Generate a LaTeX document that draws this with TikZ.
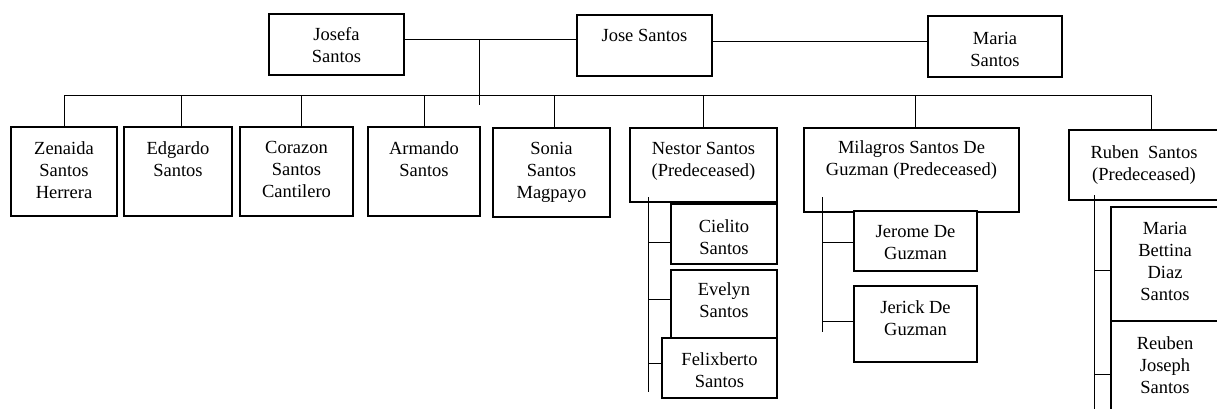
\documentclass[tikz,border=0pt]{standalone}
\usepackage{fontspec}
\setmainfont{Liberation Serif}
\usetikzlibrary{calc}
\tikzset{
  famrect/.style={draw, rectangle, line width=1.1pt, fill=white, inner sep=0pt},
  famtext/.style={anchor=north, align=center, inner sep=0pt, font=\fontsize{18.5}{22}\selectfont},
  conn/.style={line width=1pt}
}
% name, x1, y1, x2, y2, text, text offset
\newcommand\famnode[7]{%
  \node[famrect, minimum width={(#4-#2)*1pt}, minimum height={(#5-#3)*1pt}] (#1) at ({(#2+#4)/2},{(#3+#5)/2}) {};
  \node[famtext] (#1t) at ([yshift=-#7pt]#1.north) {#6};
}
\begin{document}
\begin{tikzpicture}[x=1pt,y=-1pt]
\useasboundingbox (0,0) rectangle (1217,408);
\clip (0,0) rectangle (1217,408);

% parents
\famnode{josefa}{269}{14}{404}{75}{Josefa\\Santos}{14}
\famnode{jose}{577}{15}{712}{76}{Jose Santos}{15}
\famnode{maria}{928}{16}{1062}{77}{Maria\\Santos}{17}

% children
\famnode{zen}{11}{127}{117}{216}{Zenaida\\Santos\\Herrera}{15}
\famnode{edg}{124}{127}{232}{216}{Edgardo\\Santos}{15}
\famnode{cor}{240}{127}{353}{216}{Corazon\\Santos\\Cantilero}{15}
\famnode{arm}{368}{127}{480}{216}{Armando\\Santos}{15}
\famnode{son}{493}{128}{610}{217}{Sonia\\Santos\\Magpayo}{15}
\famnode{nes}{630}{128}{777}{202}{Nestor Santos\\(Predeceased)}{15}
\famnode{mil}{804}{128}{1019}{212}{Milagros Santos De\\Guzman (Predeceased)}{13}
\famnode{rub}{1069}{130}{1219}{200}{Ruben~~Santos\\(Predeceased)}{16}

% grandchildren
\famnode{cie}{671}{204}{777}{264}{Cielito\\Santos}{16}
\famnode{eve}{671}{270}{777}{338}{Evelyn\\Santos}{13}
\famnode{fel}{662}{338}{777}{398}{Felixberto\\Santos}{15}
\famnode{jer}{854}{211}{977}{271}{Jerome De\\Guzman}{15}
\famnode{jek}{854}{286}{977}{362}{Jerick De\\Guzman}{15}
\famnode{mbd}{1111}{207}{1219}{321}{Maria\\Bettina\\Diaz\\Santos}{16}
\famnode{reu}{1111}{321}{1219}{425}{Reuben\\Joseph\\Santos}{16}

% parent connectors
\coordinate (jj) at ($(josefa.east)+(0,-5.5)$);
\draw[conn] (jj) -- (jj -| jose.west);
\coordinate (jm) at ($(jose.east)+(0,-4.5)$);
\draw[conn] (jm) -- (jm -| maria.west);
\coordinate (ptop) at (479,39);
\coordinate (pbot) at (479,105);
\draw[conn] (ptop) -- (pbot);

% bus
\coordinate (busL) at (64,95);
\coordinate (busR) at (1151,95);
\draw[conn] (busL) -- (busR);

% drops
\draw[conn] (zen.north) -- (zen.north |- busL);
\draw[conn] ($(edg.north)+(3,0)$) coordinate (d2) -- (d2 |- busL);
\draw[conn] ($(cor.north)+(4.5,0)$) coordinate (d3) -- (d3 |- busL);
\draw[conn] (arm.north) -- (arm.north |- busL);
\draw[conn] ($(son.north)+(2.5,0)$) coordinate (d5) -- (d5 |- busL);
\draw[conn] ($(nes.north)+(-0.5,0)$) coordinate (d6) -- (d6 |- busL);
\draw[conn] ($(mil.north)+(3.5,0)$) coordinate (d7) -- (d7 |- busL);
\draw[conn] ($(rub.north)+(7,0)$) coordinate (d8) -- (d8 |- busL);

% Nestor's children
\coordinate (nv1) at (648,197);
\coordinate (nv2) at (648,392);
\draw[conn] (nv1) -- (nv2);
\draw[conn] ($(cie.west)+(0,8)$) coordinate (c1) -- (c1 -| nv1);
\draw[conn] ($(eve.west)+(0,-5)$) coordinate (c2) -- (c2 -| nv1);
\draw[conn] ($(fel.west)+(0,-5)$) coordinate (c3) -- (c3 -| nv1);

% Milagros' children
\coordinate (mv1) at (822,197);
\coordinate (mv2) at (822,332);
\draw[conn] (mv1) -- (mv2);
\draw[conn] ($(jer.west)+(0,1)$) coordinate (c4) -- (c4 -| mv1);
\draw[conn] ($(jek.west)+(0,-3)$) coordinate (c5) -- (c5 -| mv1);

% Ruben's children
\coordinate (rv1) at (1094,195);
\coordinate (rv2) at (1094,410);
\draw[conn] (rv1) -- (rv2);
\draw[conn] ($(mbd.west)+(0,6)$) coordinate (c6) -- (c6 -| rv1);
\draw[conn] ($(reu.west)+(0,1)$) coordinate (c7) -- (c7 -| rv1);
\end{tikzpicture}
\end{document}
